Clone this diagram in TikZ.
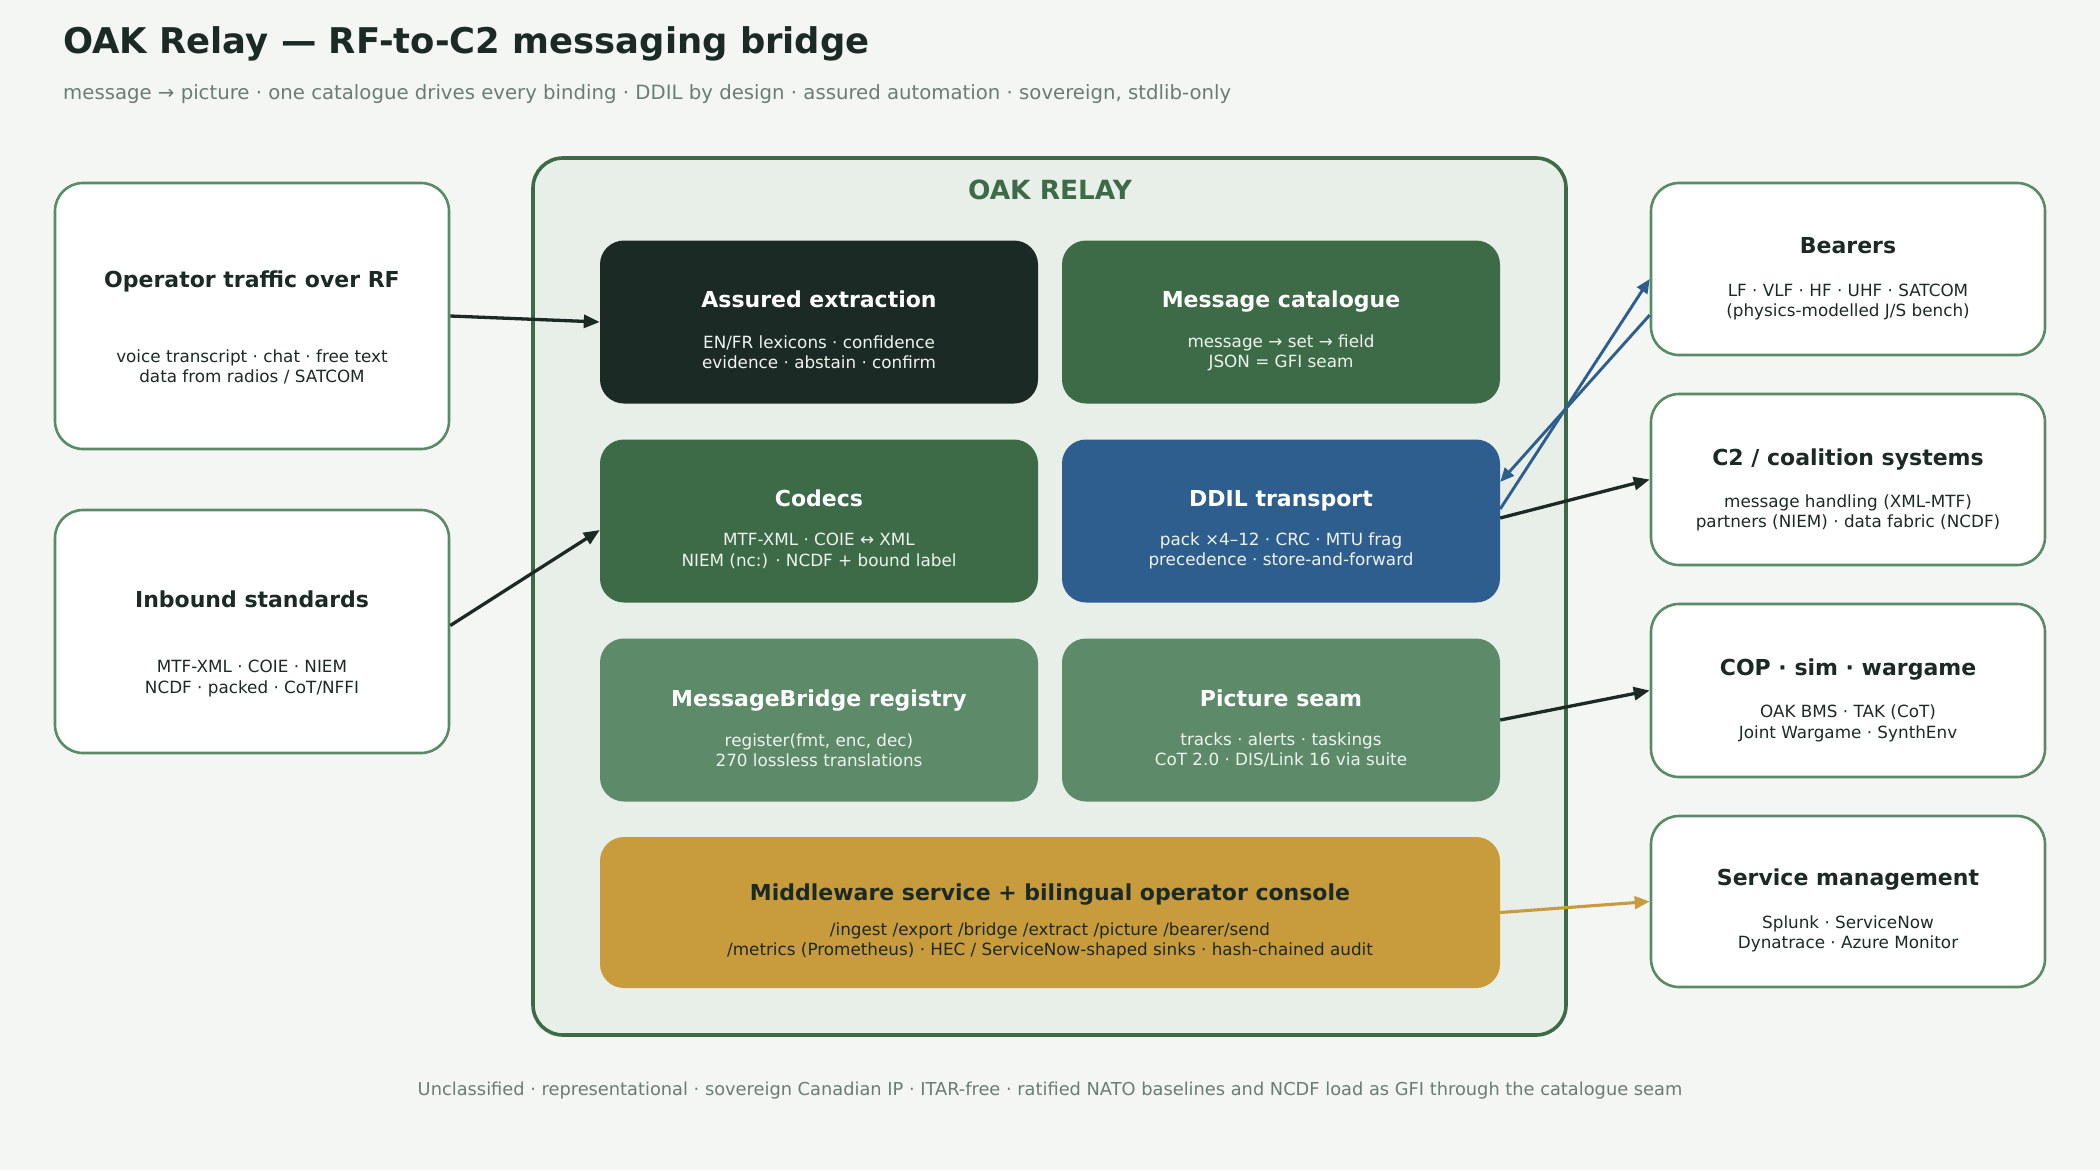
\documentclass[tikz,border=0pt]{standalone}
\usepackage{fontspec}
\setmainfont{DejaVu Sans}
\usetikzlibrary{arrows.meta,calc}
\definecolor{bg}{HTML}{F4F6F3}
\definecolor{ink}{HTML}{1C2A25}
\definecolor{muted}{HTML}{6B7D72}
\definecolor{frame}{HTML}{3D6B47}
\definecolor{panel}{HTML}{E8EFE8}
\definecolor{edge}{HTML}{5A8A66}
\definecolor{darkbox}{HTML}{1C2A25}
\definecolor{greenbox}{HTML}{3D6B47}
\definecolor{bluebox}{HTML}{2E5E8E}
\definecolor{lightgreen}{HTML}{5D8A69}
\definecolor{gold}{HTML}{C89B3C}
\definecolor{paletext}{HTML}{EEF3EE}
\begin{document}
\begin{tikzpicture}[x=1pt,y=-1pt,
  outbox/.style={draw=edge, line width=2.6pt, fill=white, rounded corners=28pt,
    minimum width=394pt, inner sep=0pt},
  inbox/.style={draw=none, rounded corners=24pt, minimum width=438pt,
    minimum height=163pt, inner sep=0pt},
  ttl/.style={font=\fontsize{22}{26}\selectfont\bfseries, text=ink, inner sep=0pt,
    text height=16pt, text depth=0pt},
  body/.style={font=\fontsize{16.8}{20.4}\selectfont, text=ink, align=center, inner sep=0pt},
  wttl/.style={ttl, text=white},
  wbody/.style={body, text=paletext},
  conn/.style={line width=3.3pt, draw=ink, -{Triangle[length=16pt,width=13pt]}},
  bconn/.style={line width=2.9pt, draw=bluebox, -{Triangle[length=14pt,width=12pt]}},
  gconn/.style={line width=3.1pt, draw=gold, -{Triangle[length=15pt,width=12.5pt]}}
]
\fill[bg] (0,0) rectangle (2100,1170);
\useasboundingbox (0,0) rectangle (2100,1170);

% title
\node[anchor=base west, inner sep=0pt, text=ink, font=\fontsize{35.4}{42}\selectfont\bfseries] (title) at (63,53) {OAK Relay — RF-to-C2 messaging bridge};
\node[anchor=base west, inner sep=0pt, text=muted, font=\fontsize{19.7}{23}\selectfont] (subtitle) at (63,99) {message → picture · one catalogue drives every binding · DDIL by design · assured automation · sovereign, stdlib-only};

% container
\node[draw=frame, line width=3.6pt, fill=panel, rounded corners=30pt, minimum width=1033pt, minimum height=877pt, inner sep=0pt] (relay) at (1049.5,596.5) {};
\node[text=frame, font=\fontsize{26.4}{30}\selectfont\bfseries, inner sep=0pt, text height=19.3pt, text depth=0pt] (relayT) at (1050,190) {OAK RELAY};

% left boxes
\node[outbox, minimum height=266pt] (op) at (252,316) {};
\node[ttl] (opT) at (252,279) {Operator traffic over RF};
\node[body] (opB) at (252,367) {voice transcript · chat · free text\\data from radios / SATCOM};

\node[outbox, minimum height=243pt] (inb) at (252,631.5) {};
\node[ttl] (inbT) at (252,599) {Inbound standards};
\node[body] (inbB) at (252,678.5) {MTF-XML · COIE · NIEM\\NCDF · packed · CoT/NFFI};

% inner boxes
\node[inbox, fill=darkbox] (ae) at (819,322) {};
\node[wttl] (aeT) at (819,299) {Assured extraction};
\node[wbody] (aeB) at (819,352.5) {EN/FR lexicons · confidence\\evidence · abstain · confirm};

\node[inbox, fill=greenbox] (mc) at (1281,322) {};
\node[wttl] (mcT) at (1281,299) {Message catalogue};
\node[wbody] (mcB) at (1281,352.5) {message → set → field\\JSON = GFI seam};

\node[inbox, fill=greenbox] (codecs) at (819,521) {};
\node[wttl] (codecsT) at (819,498) {Codecs};
\node[wbody] (codecsB) at (819,551) {MTF-XML · COIE ↔ XML\\NIEM (nc:) · NCDF + bound label};

\node[inbox, fill=bluebox] (ddil) at (1281,521) {};
\node[wttl] (ddilT) at (1281,498) {DDIL transport};
\node[wbody] (ddilB) at (1281,551) {pack ×4–12 · CRC · MTU frag\\precedence · store-and-forward};

\node[inbox, fill=lightgreen] (mb) at (819,720) {};
\node[wttl] (mbT) at (819,698) {MessageBridge registry};
\node[wbody] (mbB) at (819,750) {register(fmt, enc, dec)\\270 lossless translations};

\node[inbox, fill=lightgreen] (ps) at (1281,720) {};
\node[wttl] (psT) at (1281,698) {Picture seam};
\node[wbody] (psB) at (1281,750) {tracks · alerts · taskings\\CoT 2.0 · DIS/Link 16 via suite};

\node[inbox, fill=gold, minimum width=900pt, minimum height=151pt] (mw) at (1050,912.5) {};
\node[ttl] (mwT) at (1050,892) {Middleware service + bilingual operator console};
\node[body] (mwB) at (1050,941) {/ingest /export /bridge /extract /picture /bearer/send\\/metrics (Prometheus) · HEC / ServiceNow-shaped sinks · hash-chained audit};

% right boxes
\node[outbox, minimum height=172pt] (bearers) at (1848,269) {};
\node[ttl] (bearersT) at (1848,245) {Bearers};
\node[body] (bearersB) at (1848,302) {LF · VLF · HF · UHF · SATCOM\\(physics-modelled J/S bench)};

\node[outbox, minimum height=171pt] (c2) at (1848,479.5) {};
\node[ttl] (c2T) at (1848,457) {C2 / coalition systems};
\node[body] (c2B) at (1848,513) {message handling (XML-MTF)\\partners (NIEM) · data fabric (NCDF)};

\node[outbox, minimum height=173pt] (cop) at (1848,690.5) {};
\node[ttl] (copT) at (1848,667) {COP · sim · wargame};
\node[body] (copB) at (1848,723.5) {OAK BMS · TAK (CoT)\\Joint Wargame · SynthEnv};

\node[outbox, minimum height=171pt] (svc) at (1848,901.5) {};
\node[ttl] (svcT) at (1848,877) {Service management};
\node[body] (svcB) at (1848,934) {Splunk · ServiceNow\\Dynatrace · Azure Monitor};

% footer
\node[text=muted, font=\fontsize{17.8}{21}\selectfont, inner sep=0pt, text height=13pt, text depth=0pt] (footer) at (1050,1089) {Unclassified · representational · sovereign Canadian IP · ITAR-free · ratified NATO baselines and NCDF load as GFI through the catalogue seam};

% connectors
\draw[conn] (op.east) -- (ae.west);
\draw[conn] ($(inb.east)+(0,-6)$) -- ($(codecs.west)+(0,9)$);
\draw[bconn] ($(ddil.east)+(0,-12)$) -- ($(bearers.west)+(0,10)$);
\draw[bconn] ($(bearers.west)+(0,46)$) -- ($(ddil.east)+(0,-39)$);
\draw[conn] ($(ddil.east)+(0,-3)$) -- (c2.west);
\draw[conn] (ps.east) -- (cop.west);
\draw[gconn] (mw.east) -- (svc.west);
\end{tikzpicture}
\end{document}
